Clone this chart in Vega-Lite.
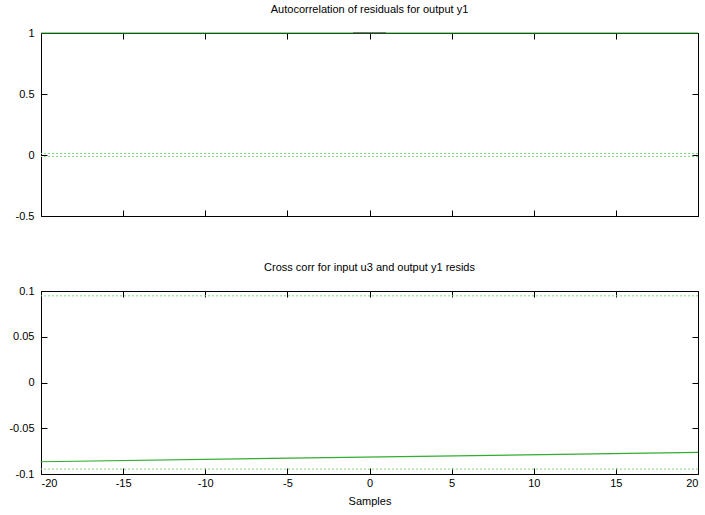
{
  "$schema": "https://vega.github.io/schema/vega-lite/v6.json",
  "padding": {"left": 8, "top": 4, "right": 7, "bottom": 5},
  "spacing": 75,
  "bounds": "flush",
  "datasets": {
    "acf": [{"lag": -20, "r": 1}, {"lag": 20, "r": 1}],
    "acf0": [{"lag": -1, "r": 1}, {"lag": 1, "r": 1}],
    "acfconf": [{"c": 0.012}, {"c": -0.012}],
    "ccf": [{"lag": -20, "r": -0.0866}, {"lag": 20, "r": -0.0764}],
    "ccfconf": [{"c": 0.0947}, {"c": -0.0947}]
  },
  "config": {
    "font": "Liberation Sans",
    "view": {"stroke": null},
    "axis": {
      "grid": false,
      "domainColor": "#000000",
      "domainWidth": 1,
      "tickColor": "#000000",
      "tickSize": -6,
      "labelFont": "Liberation Sans",
      "labelFontSize": 11,
      "labelColor": "#000000",
      "titleFont": "Liberation Sans",
      "titleFontSize": 11,
      "titleFontWeight": "normal",
      "titleColor": "#000000"
    },
    "title": {"font": "Liberation Sans", "fontSize": 11, "fontWeight": "normal", "color": "#000000", "offset": 12}
  },
  "vconcat": [
    {
      "width": 657,
      "height": 183,
      "title": "Autocorrelation of residuals for output y1",
      "resolve": {"axis": {"x": "independent", "y": "independent"}},
      "layer": [
        {
          "data": {"name": "acfconf"},
          "mark": {"type": "rule", "color": "#7fdc7f", "strokeDash": [2, 2], "strokeWidth": 1},
          "encoding": {
            "y": {"field": "c", "type": "quantitative", "scale": {"domain": [-0.5, 1], "nice": false, "zero": false}, "axis": null}
          }
        },
        {
          "data": {"name": "acf"},
          "mark": {"type": "line", "color": "#2fae2f", "strokeWidth": 1.2, "clip": false},
          "encoding": {
            "x": {"field": "lag", "type": "quantitative", "scale": {"domain": [-20, 20], "nice": false, "zero": false},
              "axis": {"orient": "bottom", "labels": false, "title": null, "values": [-20, -15, -10, -5, 0, 5, 10, 15, 20]}},
            "y": {"field": "r", "type": "quantitative", "scale": {"domain": [-0.5, 1], "nice": false, "zero": false},
              "axis": {"orient": "left", "title": null, "values": [-0.5, 0, 0.5, 1], "labelExpr": "'' + datum.value", "labelPadding": 13}}
          }
        },
        {
          "data": {"name": "acf0"},
          "mark": {"type": "line", "color": "#333333", "strokeWidth": 1.2, "clip": false},
          "encoding": {
            "x": {"field": "lag", "type": "quantitative", "scale": {"domain": [-20, 20], "nice": false, "zero": false},
              "axis": {"orient": "top", "labels": false, "title": null, "values": [-20, -15, -10, -5, 0, 5, 10, 15, 20]}},
            "y": {"field": "r", "type": "quantitative", "scale": {"domain": [-0.5, 1], "nice": false, "zero": false},
              "axis": {"orient": "right", "labels": false, "title": null, "values": [-0.5, 0, 0.5, 1]}}
          }
        }
      ]
    },
    {
      "width": 657,
      "height": 183,
      "title": "Cross corr for input u3 and output y1 resids",
      "resolve": {"axis": {"x": "independent", "y": "independent"}},
      "layer": [
        {
          "data": {"name": "ccfconf"},
          "mark": {"type": "rule", "color": "#7fdc7f", "strokeDash": [2, 2], "strokeWidth": 1},
          "encoding": {
            "y": {"field": "c", "type": "quantitative", "scale": {"domain": [-0.1, 0.1], "nice": false, "zero": false}, "axis": null}
          }
        },
        {
          "data": {"name": "ccf"},
          "mark": {"type": "line", "color": "#2fae2f", "strokeWidth": 1.2},
          "encoding": {
            "x": {"field": "lag", "type": "quantitative", "scale": {"domain": [-20, 20], "nice": false, "zero": false},
              "axis": {"orient": "bottom", "title": "Samples", "titlePadding": 7, "values": [-20, -15, -10, -5, 0, 5, 10, 15, 20], "labelExpr": "'' + datum.value", "labelPadding": 9}},
            "y": {"field": "r", "type": "quantitative", "scale": {"domain": [-0.1, 0.1], "nice": false, "zero": false},
              "axis": {"orient": "left", "title": null, "values": [-0.1, -0.05, 0, 0.05, 0.1], "labelExpr": "'' + datum.value", "labelPadding": 13}}
          }
        },
        {
          "data": {"name": "ccf"},
          "mark": {"type": "line", "opacity": 0},
          "encoding": {
            "x": {"field": "lag", "type": "quantitative", "scale": {"domain": [-20, 20], "nice": false, "zero": false},
              "axis": {"orient": "top", "labels": false, "title": null, "values": [-20, -15, -10, -5, 0, 5, 10, 15, 20]}},
            "y": {"field": "r", "type": "quantitative", "scale": {"domain": [-0.1, 0.1], "nice": false, "zero": false},
              "axis": {"orient": "right", "labels": false, "title": null, "values": [-0.1, -0.05, 0, 0.05, 0.1]}}
          }
        }
      ]
    }
  ]
}
